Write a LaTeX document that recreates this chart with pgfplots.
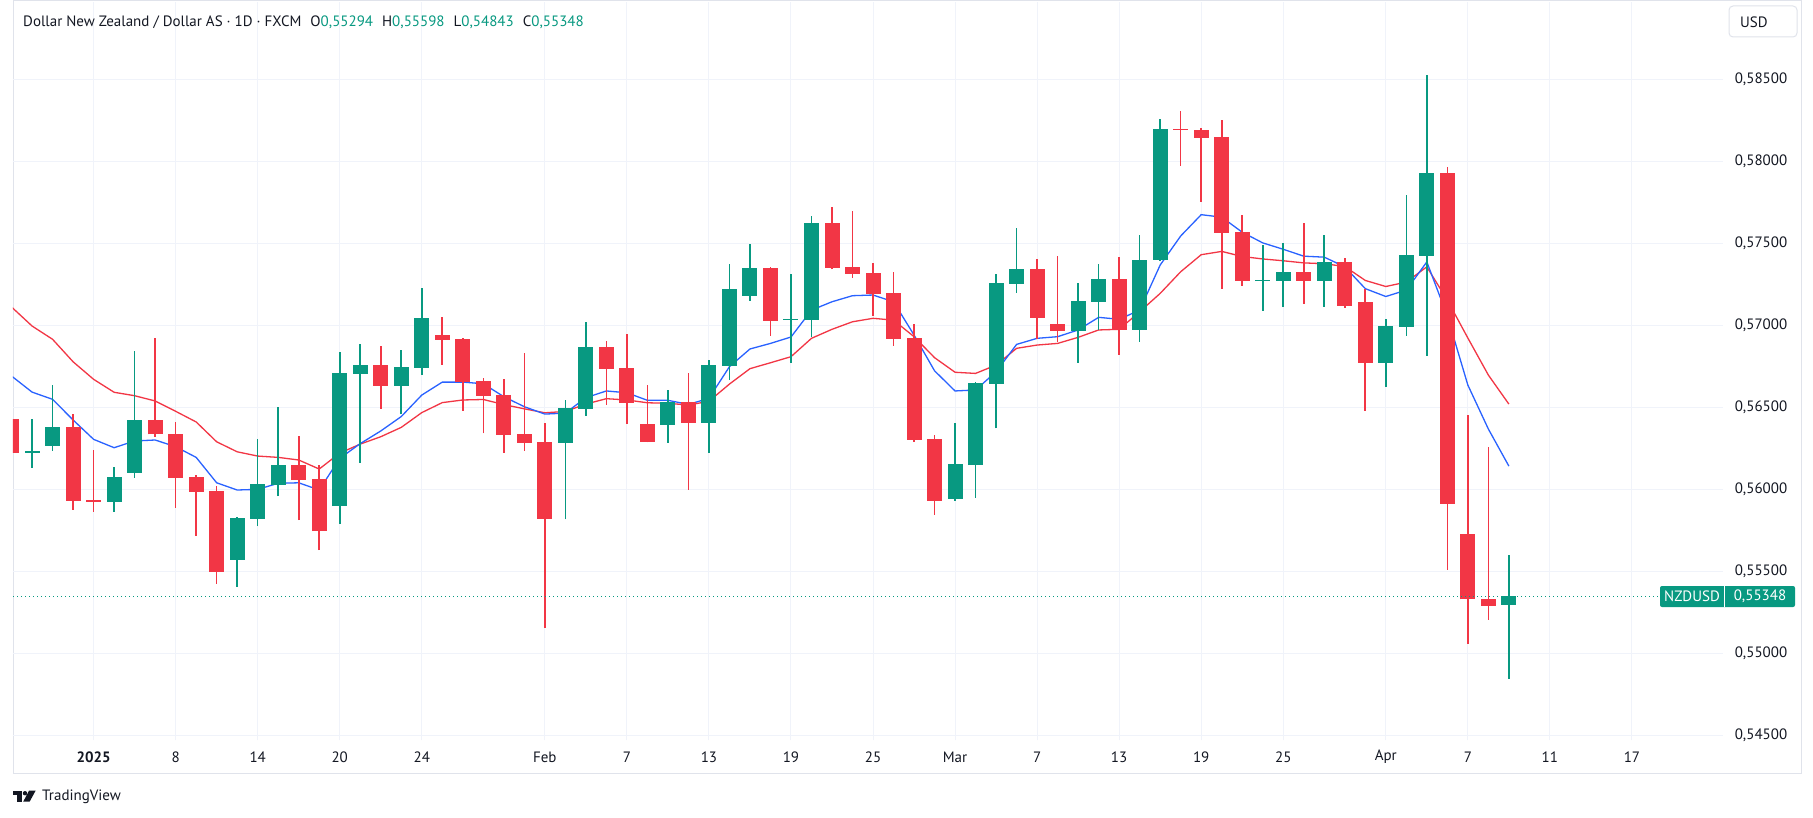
\documentclass[border=0pt]{standalone}
\usepackage{pgfplots}
\pgfplotsset{compat=1.18}
\usepackage{pgfplotstable}
\usepackage{fontspec}
\setmainfont{PT Sans}
\definecolor{tvgreen}{HTML}{089981}
\definecolor{tvred}{HTML}{F23645}
\definecolor{tvblue}{HTML}{2962FF}
\definecolor{tvgrid}{HTML}{F0F3FA}
\definecolor{tvtext}{HTML}{131722}
\definecolor{tvframe}{HTML}{E0E3EB}
\newcommand\tvf{\fontsize{15}{18}\selectfont}
\newcommand\tvh{\fontsize{15}{18}\selectfont}

\pgfplotstableread{
i o h l c
-4 0.56427 0.56430 0.56218 0.56221
-1 0.56378 0.56457 0.55874 0.55929
0 0.55933 0.56238 0.55862 0.55923
3 0.56421 0.56921 0.56319 0.56333
4 0.56335 0.56409 0.55886 0.56069
5 0.56073 0.56085 0.55715 0.55984
6 0.55988 0.56018 0.55423 0.55496
10 0.56146 0.56323 0.55811 0.56055
11 0.56061 0.56146 0.55628 0.55744
14 0.56756 0.56872 0.56490 0.56630
17 0.56939 0.57049 0.56758 0.56910
18 0.56915 0.56920 0.56477 0.56654
19 0.56659 0.56679 0.56340 0.56569
20 0.56573 0.56671 0.56221 0.56331
21 0.56335 0.56831 0.56234 0.56282
22 0.56287 0.56402 0.55154 0.55819
25 0.56866 0.56902 0.56514 0.56734
26 0.56738 0.56945 0.56398 0.56526
27 0.56396 0.56634 0.56285 0.56288
29 0.56530 0.56709 0.55996 0.56404
33 0.57348 0.57354 0.56935 0.57026
36 0.57622 0.57722 0.57341 0.57349
37 0.57354 0.57695 0.57288 0.57313
38 0.57317 0.57378 0.57057 0.57191
39 0.57195 0.57323 0.56874 0.56916
40 0.56921 0.57006 0.56288 0.56301
41 0.56305 0.56329 0.55843 0.55929
46 0.57341 0.57402 0.56916 0.57045
47 0.57006 0.57421 0.56896 0.56965
50 0.57280 0.57415 0.56819 0.56971
53 0.58197 0.58305 0.57971 0.58190
54 0.58189 0.58202 0.57751 0.58143
55 0.58146 0.58250 0.57222 0.57564
56 0.57567 0.57671 0.57240 0.57270
59 0.57323 0.57623 0.57130 0.57270
61 0.57384 0.57409 0.57104 0.57118
62 0.57140 0.57218 0.56477 0.56771
66 0.57927 0.57963 0.55509 0.55911
67 0.55726 0.56451 0.55055 0.55327
68 0.55327 0.56254 0.55203 0.55288
}\redc

\pgfplotstableread{
i o h l c
-3 0.56221 0.56427 0.56130 0.56234
-2 0.56264 0.56634 0.56234 0.56378
1 0.55923 0.56134 0.55862 0.56073
2 0.56099 0.56841 0.56069 0.56421
7 0.55569 0.55829 0.55404 0.55823
8 0.55819 0.56305 0.55774 0.56030
9 0.56024 0.56502 0.55957 0.56146
12 0.55896 0.56835 0.55787 0.56707
13 0.56703 0.56884 0.56160 0.56756
15 0.56630 0.56848 0.56455 0.56744
16 0.56740 0.57226 0.56697 0.57043
23 0.56282 0.56543 0.55815 0.56494
24 0.56490 0.57018 0.56447 0.56866
28 0.56392 0.56604 0.56282 0.56530
30 0.56404 0.56787 0.56221 0.56756
31 0.56752 0.57372 0.56665 0.57220
32 0.57179 0.57494 0.57148 0.57348
34 0.57032 0.57311 0.56770 0.57039
35 0.57032 0.57665 0.56929 0.57622
42 0.55941 0.56402 0.55929 0.56152
43 0.56146 0.56650 0.55947 0.56646
44 0.56642 0.57311 0.56370 0.57256
45 0.57252 0.57591 0.57197 0.57341
48 0.56965 0.57256 0.56770 0.57146
49 0.57142 0.57372 0.56971 0.57280
51 0.56971 0.57549 0.56898 0.57396
52 0.57398 0.58256 0.57390 0.58195
57 0.57268 0.57488 0.57087 0.57276
58 0.57270 0.57501 0.57109 0.57323
60 0.57270 0.57549 0.57111 0.57384
63 0.56771 0.57037 0.56623 0.56993
64 0.56989 0.57793 0.56935 0.57427
65 0.57423 0.58524 0.56813 0.57927
69 0.55294 0.55598 0.54843 0.55348
}\greenc

\begin{document}
\begin{tikzpicture}[x=1pt,y=1pt]
\fill[white] (0,0) rectangle (1813,-818);
\draw[tvframe, line width=1pt] (13,-1) rectangle (1801,-773);
\begin{axis}[
  at={(13pt,-740pt)}, anchor=south west,
  scale only axis, width=1710pt, height=738pt,
  xmin=-3.93, xmax=79.44, ymin=0.544695, ymax=0.58970,
  axis line style={draw=none}, tick style={draw=none},
  major tick length=0pt,
  grid=major, major grid style={tvgrid, line width=1pt},
  xtick={0,4,8,12,16,22,26,30,34,38,42,46,50,54,58,63,67,71,75},
  xticklabels={{\textbf{2025}},8,14,20,24,Feb,7,13,19,25,Mar,7,13,19,25,Apr,7,11,17},
  xticklabel style={anchor=center, yshift=-17pt, font=\tvf, text=tvtext},
  ytick={0.545,0.550,0.555,0.560,0.565,0.570,0.575,0.580,0.585},
  yticklabels={{0,54500},{0,55000},{0,55500},{0,56000},{0,56500},{0,57000},{0,57500},{0,58000},{0,58500}},
  yticklabel pos=right,
  yticklabel style={anchor=center, xshift=38pt, font=\tvf, text=tvtext},
]
\addplot[tvred, line width=1.3pt, mark=none] coordinates {(-4,0.57110)(-3,0.56994)(-2,0.56913)(-1,0.56776)(0,0.56669)(1,0.56590)(2,0.56569)(3,0.56537)(4,0.56474)(5,0.56409)(6,0.56288)(7,0.56227)(8,0.56201)(9,0.56193)(10,0.56177)(11,0.56122)(12,0.56219)(13,0.56274)(14,0.56319)(15,0.56376)(16,0.56466)(17,0.56527)(18,0.56543)(19,0.56546)(20,0.56515)(21,0.56489)(22,0.56465)(23,0.56473)(24,0.56518)(25,0.56551)(26,0.56543)(27,0.56526)(28,0.56523)(29,0.56512)(30,0.56535)(31,0.56640)(32,0.56734)(33,0.56770)(34,0.56807)(35,0.56919)(36,0.56974)(37,0.57020)(38,0.57041)(39,0.57030)(40,0.56929)(41,0.56801)(42,0.56712)(43,0.56705)(44,0.56756)(45,0.56858)(46,0.56878)(47,0.56888)(48,0.56925)(49,0.56970)(50,0.56974)(51,0.57081)(52,0.57193)(53,0.57325)(54,0.57429)(55,0.57449)(56,0.57418)(57,0.57403)(58,0.57392)(59,0.57379)(60,0.57374)(61,0.57357)(62,0.57272)(63,0.57235)(64,0.57262)(65,0.57355)(66,0.57152)(67,0.56921)(68,0.56695)(69,0.56518)};
\addplot[tvblue, line width=1.3pt, mark=none] coordinates {(-4,0.56689)(-3,0.56591)(-2,0.56547)(-1,0.56421)(0,0.56303)(1,0.56252)(2,0.56293)(3,0.56299)(4,0.56258)(5,0.56193)(6,0.56038)(7,0.55994)(8,0.55998)(9,0.56035)(10,0.56038)(11,0.55994)(12,0.56187)(13,0.56277)(14,0.56354)(15,0.56442)(16,0.56573)(17,0.56652)(18,0.56652)(19,0.56642)(20,0.56563)(21,0.56502)(22,0.56457)(23,0.56463)(24,0.56557)(25,0.56598)(26,0.56587)(27,0.56541)(28,0.56541)(29,0.56516)(30,0.56553)(31,0.56746)(32,0.56854)(33,0.56888)(34,0.56927)(35,0.57091)(36,0.57142)(37,0.57179)(38,0.57183)(39,0.57142)(40,0.56939)(41,0.56721)(42,0.56598)(43,0.56604)(44,0.56715)(45,0.56882)(46,0.56919)(47,0.56929)(48,0.56970)(49,0.57047)(50,0.57035)(51,0.57091)(52,0.57366)(53,0.57543)(54,0.57673)(55,0.57658)(56,0.57566)(57,0.57501)(58,0.57462)(59,0.57420)(60,0.57414)(61,0.57355)(62,0.57222)(63,0.57174)(64,0.57213)(65,0.57385)(66,0.57055)(67,0.56634)(68,0.56366)(69,0.56140)};
% wicks
\addplot[draw=none, mark=none, error bars/.cd, y dir=plus, y explicit, error mark=none,
  error bar style={draw=tvred, line width=1.6pt}]
  table[x=i, y=l, y error expr=\thisrow{h}-\thisrow{l}] {\redc};
\addplot[draw=none, mark=none, error bars/.cd, y dir=plus, y explicit, error mark=none,
  error bar style={draw=tvgreen, line width=1.6pt}]
  table[x=i, y=l, y error expr=\thisrow{h}-\thisrow{l}] {\greenc};
% bodies
\addplot[draw=none, mark=none, error bars/.cd, y dir=plus, y explicit, error mark=none,
  error bar style={draw=tvred, line width=15pt}]
  table[x=i, y=c, y error expr=\thisrow{o}-\thisrow{c}] {\redc};
\addplot[draw=none, mark=none, error bars/.cd, y dir=plus, y explicit, error mark=none,
  error bar style={draw=tvgreen, line width=15pt}]
  table[x=i, y=o, y error expr=\thisrow{c}-\thisrow{o}] {\greenc};
\end{axis}
% last price line and label
\draw[tvgreen, line width=1pt, dash pattern=on 1.3pt off 2.7pt] (13,-596.3) -- (1660,-596.3);
\fill[tvgreen, rounded corners=2pt] (1660,-586) rectangle (1795,-607);
\draw[white, line width=1pt] (1724.5,-586) -- (1724.5,-607);
\node[text=white, font=\tvf, anchor=center, inner sep=0pt] at (1692,-596.5) {NZDUSD};
\node[text=white, font=\tvf, anchor=center, inner sep=0pt] at (1760,-596.5) {0,55348};
% USD box
\draw[tvframe, fill=white, rounded corners=4pt, line width=1pt] (1729,-6) rectangle (1797,-37);
\node[text=tvtext, font=\tvf, anchor=west, inner sep=0pt] at (1740,-22) {USD};
% header
\node[font=\tvh, text=tvtext, anchor=base west, inner sep=0pt] at (23,-26.5)
  {Dollar New Zealand / Dollar AS · 1D · FXCM\hspace{9pt}O\textcolor{tvgreen}{0,55294}\hspace{9pt}H\textcolor{tvgreen}{0,55598}\hspace{9pt}L\textcolor{tvgreen}{0,54843}\hspace{9pt}C\textcolor{tvgreen}{0,55348}};
% TradingView logo
\fill[tvtext] (12.6,-790.7) rectangle (21.8,-794.8);
\fill[tvtext] (16.6,-794.8) rectangle (21.8,-801.7);
\fill[tvtext] (25.0,-793.2) circle (2.2);
\fill[tvtext] (29.0,-790.7) -- (35.6,-790.7) -- (29.6,-801.7) -- (23.2,-801.7) -- cycle;
\node[font=\tvf, text=tvtext, anchor=west, inner sep=0pt] at (42,-796.5) {TradingView};
\pgfresetboundingbox
\useasboundingbox (0,0) rectangle (1813,-818);
\end{tikzpicture}
\end{document}
